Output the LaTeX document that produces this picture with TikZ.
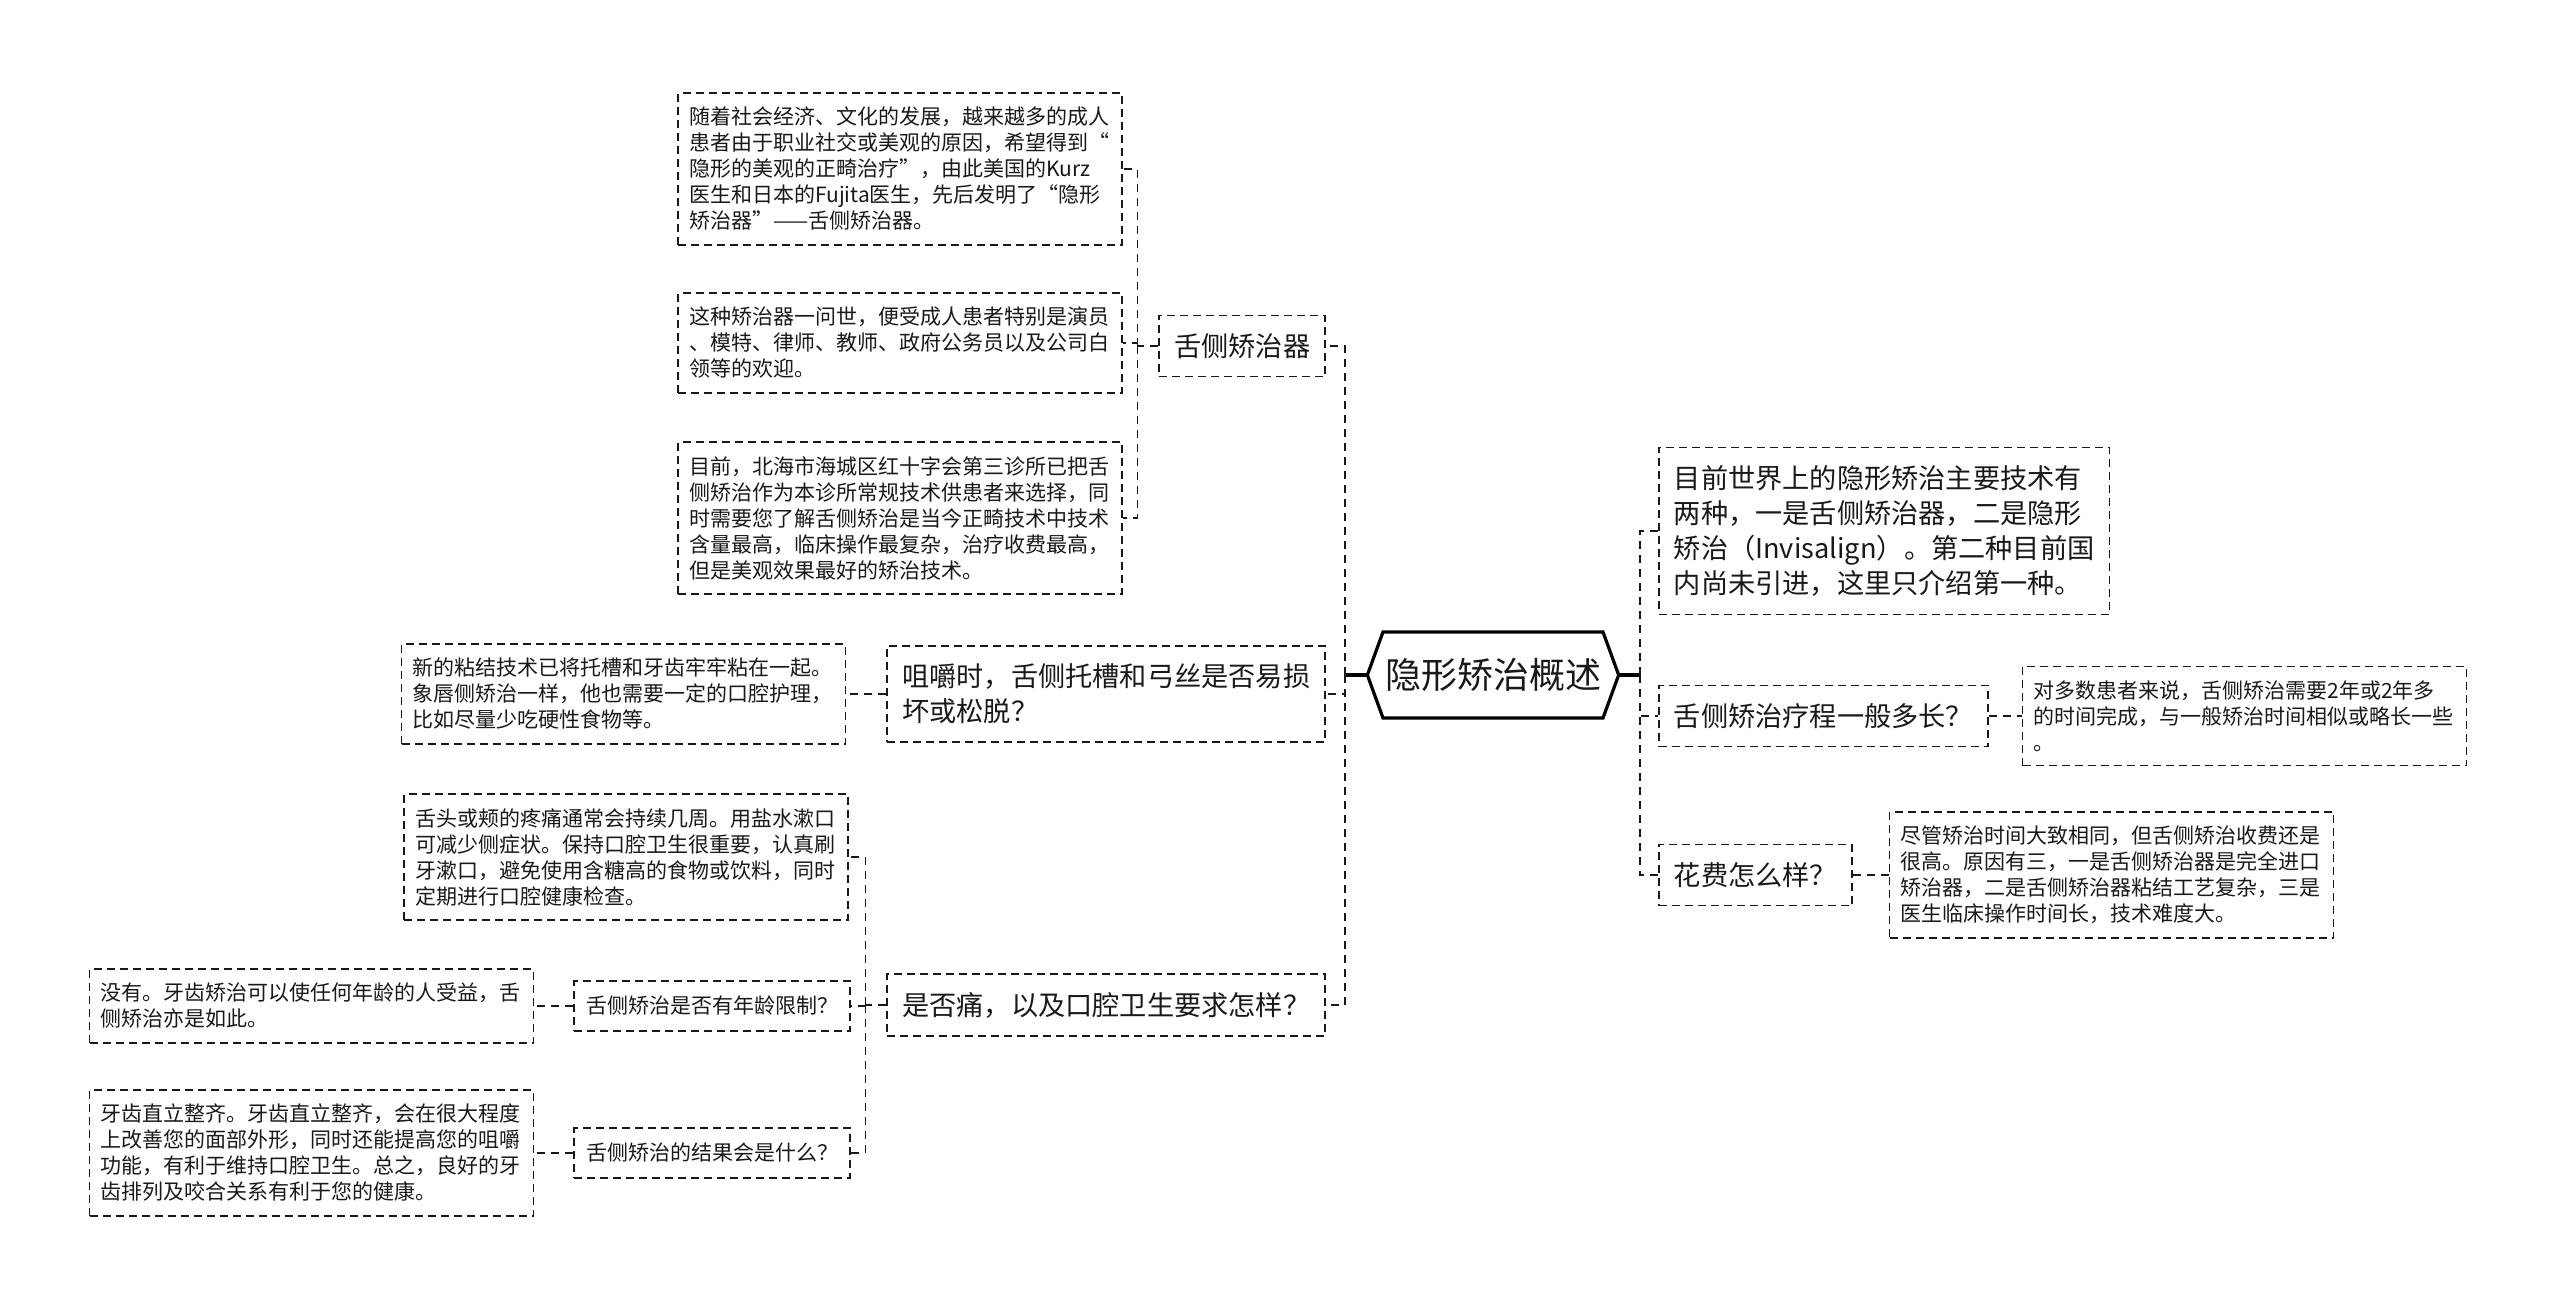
\documentclass[tikz,border=0pt]{standalone}
\usepackage{fontspec}
\setmainfont{Noto Sans CJK SC}
\usetikzlibrary{shapes.symbols, positioning}
\tikzstyle{root}=[signal, signal to=west and east, signal pointer angle=140, align=center, line width=1.6pt, draw=black, fill=white, text=black!90, inner xsep=1pt, minimum height=43pt]
\tikzstyle{topic}=[rectangle, align=left, draw=black!90, line width=0.8pt, dash pattern=on 4pt off 2.5pt, fill=white, text=black!90, inner xsep=7.5pt, inner ysep=9pt]
\tikzstyle{ask}=[rectangle, align=left, draw=black!90, line width=0.8pt, dash pattern=on 4pt off 2.5pt, fill=white, text=black!90, inner xsep=6pt, inner ysep=7.5pt]
\tikzstyle{note}=[rectangle, align=left, text width=211pt, draw=black!90, line width=0.8pt, dash pattern=on 4pt off 2.5pt, fill=white, text=black!90, inner xsep=5.5pt, inner ysep=7pt]
\tikzstyle{link}=[line width=0.9pt, dash pattern=on 4pt off 3pt, draw=black!90]
\tikzstyle{stub}=[line width=1.6pt, draw=black]
\newcommand{\froot}{\fontsize{18}{22}\selectfont}
\newcommand{\ftopic}{\fontsize{13.6}{17.5}\selectfont}
\newcommand{\fnote}{\fontsize{10.5}{13}\selectfont}

\begin{document}
\begin{tikzpicture}[x=0.5pt, y=-0.5pt]
    \useasboundingbox [fill=white] (0,0) rectangle (2560,1310);

    \node [root, font = \froot] (root) at (1493,675) {隐形矫治概述};
    \coordinate (lt) at ([xshift=-10.5pt]root.west);
    \coordinate (rt) at ([xshift=10pt]root.east);
    \draw [stub] (root.west) -- (lt);
    \draw [stub] (root.east) -- (rt);

    % left branches
    \node [topic, anchor=east, font = \ftopic] (tongue) at (1326,346) {舌侧矫治器};
    \node [topic, anchor=east, font = \ftopic] (chew) at (1326,694) {咀嚼时，舌侧托槽和弓丝是否易损\\坏或松脱？};
    \node [topic, anchor=east, font = \ftopic] (pain) at (1326,1005) {是否痛，以及口腔卫生要求怎样？};
    \draw [link] (lt) |- (tongue);
    \draw [link] (lt) |- (chew);
    \draw [link] (lt) |- (pain);

    \node [note, anchor=east, font = \fnote] (origin) at (1123,169) {随着社会经济、文化的发展，越来越多的成人\\患者由于职业社交或美观的原因，希望得到“\\隐形的美观的正畸治疗”，由此美国的Kurz\\医生和日本的Fujita医生，先后发明了“隐形\\矫治器”——舌侧矫治器。};
    \node [note, anchor=east, font = \fnote] (welcome) at (1123,343) {这种矫治器一问世，便受成人患者特别是演员\\、模特、律师、教师、政府公务员以及公司白\\领等的欢迎。};
    \node [note, anchor=east, font = \fnote] (clinic) at (1123,518) {目前，北海市海城区红十字会第三诊所已把舌\\侧矫治作为本诊所常规技术供患者来选择，同\\时需要您了解舌侧矫治是当今正畸技术中技术\\含量最高，临床操作最复杂，治疗收费最高，\\但是美观效果最好的矫治技术。};
    \coordinate (tt) at ([xshift=-10.5pt]tongue.west);
    \draw [link] (tongue.west) -- (tt);
    \draw [link] (tt) |- (origin);
    \draw [link] (tt) |- (welcome);
    \draw [link] (tt) |- (clinic);

    \node [note, left = 20pt of chew, font = \fnote] (bond) {新的粘结技术已将托槽和牙齿牢牢粘在一起。\\象唇侧矫治一样，他也需要一定的口腔护理，\\比如尽量少吃硬性食物等。};
    \draw [link] (chew) -- (bond);

    \node [note, anchor=east, font = \fnote] (care) at (849,857) {舌头或颊的疼痛通常会持续几周。用盐水漱口\\可减少侧症状。保持口腔卫生很重要，认真刷\\牙漱口，避免使用含糖高的食物或饮料，同时\\定期进行口腔健康检查。};
    \node [ask, anchor=east, font = \fnote] (age) at (851,1006) {舌侧矫治是否有年龄限制？};
    \node [ask, anchor=east, font = \fnote] (result) at (851,1153) {舌侧矫治的结果会是什么？};
    \coordinate (pt) at ([xshift=-10.5pt]pain.west);
    \draw [link] (pain.west) -- (pt);
    \draw [link] (pt) |- (care);
    \draw [link] (pt) |- (age);
    \draw [link] (pt) |- (result);

    \node [note, left = 19.5pt of age, font = \fnote] (ageans) {没有。牙齿矫治可以使任何年龄的人受益，舌\\侧矫治亦是如此。};
    \draw [link] (age) -- (ageans);
    \node [note, left = 19.5pt of result, font = \fnote] (resultans) {牙齿直立整齐。牙齿直立整齐，会在很大程度\\上改善您的面部外形，同时还能提高您的咀嚼\\功能，有利于维持口腔卫生。总之，良好的牙\\齿排列及咬合关系有利于您的健康。};
    \draw [link] (result) -- (resultans);

    % right branches
    \node [topic, anchor=west, font = \ftopic] (tech) at (1658,531) {目前世界上的隐形矫治主要技术有\\两种，一是舌侧矫治器，二是隐形\\矫治（Invisalign）。第二种目前国\\内尚未引进，这里只介绍第一种。};
    \node [topic, anchor=west, font = \ftopic] (course) at (1658,716) {舌侧矫治疗程一般多长？};
    \node [topic, anchor=west, font = \ftopic] (cost) at (1658,875) {花费怎么样？};
    \draw [link] (rt) |- (tech);
    \draw [link] (rt) |- (course);
    \draw [link] (rt) |- (cost);

    \node [note, right = 16.5pt of course, font = \fnote] (courseans) {对多数患者来说，舌侧矫治需要2年或2年多\\的时间完成，与一般矫治时间相似或略长一些\\。};
    \draw [link] (course) -- (courseans);
    \node [note, right = 18pt of cost, font = \fnote] (costans) {尽管矫治时间大致相同，但舌侧矫治收费还是\\很高。原因有三，一是舌侧矫治器是完全进口\\矫治器，二是舌侧矫治器粘结工艺复杂，三是\\医生临床操作时间长，技术难度大。};
    \draw [link] (cost) -- (costans);
\end{tikzpicture}
\end{document}
